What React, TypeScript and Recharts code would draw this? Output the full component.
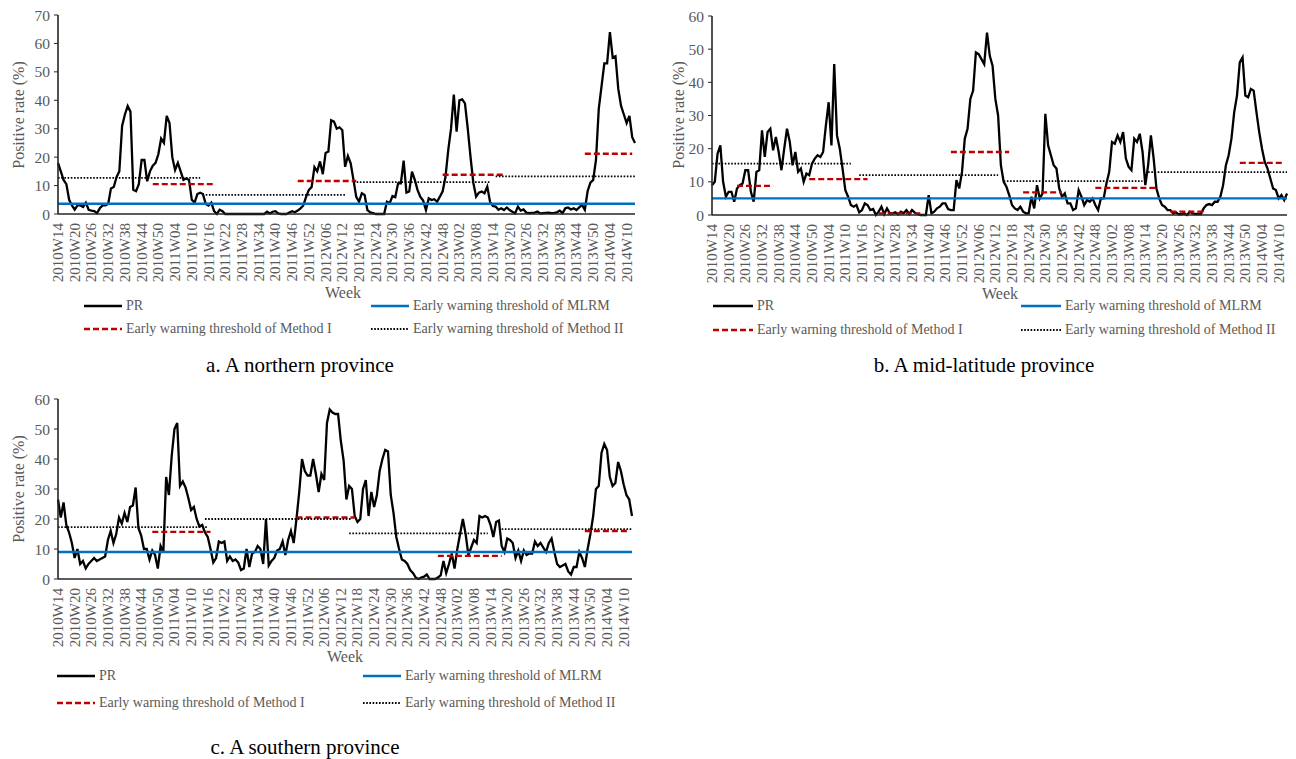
import React from 'react';
import { LineChart, Line, XAxis, YAxis } from 'recharts';

// weekly categories, 2010W14 .. 2014W13
const seasons: [number, number, number][] = [
  [2010, 14, 52],
  [2011, 1, 52],
  [2012, 1, 52],
  [2013, 1, 52],
  [2014, 1, 13],
];
const weeks: string[] = [];
seasons.forEach(([yr, from, to]) => {
  for (let w = from; w <= to; w++) weeks.push(`${yr}W${String(w).padStart(2, '0')}`);
});

// positive rate (%), one value per week
const prNorth = [
  18, 15, 12, 10.5, 5, 3, 1.5, 3, 3, 2.5,
  4, 1.5, 1.2, 1, 0.3, 2, 3, 3, 3.5, 9,
  9.5, 13, 15, 31, 35, 38, 36, 8.5, 8, 10.5,
  19, 19, 11.5, 15, 17, 18, 21, 26.5, 25, 34.5,
  32, 20, 15.5, 18, 15, 12, 12.5, 12, 5, 4,
  7, 7.5, 7, 3.5, 3, 4, 1, 0, 1.5, 1,
  0, 0, 0, 0, 0, 0, 0, 0, 0, 0,
  0, 0, 0, 0, 0, 0.8, 0.2, 0.8, 1, 0.2,
  0, 0, 0, 0.5, 1, 0.6, 1.2, 2, 3, 6,
  8.5, 9.5, 16.5, 15, 18.5, 14, 21.5, 22, 33, 32.5,
  30, 30.5, 29.5, 16.6, 20.4, 17.8, 12, 6, 4.3, 7.3,
  6.7, 1.4, 0.6, 0.3, 0, 0, 0, 0, 4.3, 3.8,
  6.3, 5.9, 10.8, 10.8, 18.8, 7.5, 7.9, 14.9, 12, 8.4,
  6, 4.7, 1.4, 5.5, 4.9, 5.2, 4.3, 6.1, 8, 13,
  22.5, 30, 42, 29, 40, 40.3, 38.9, 30, 20, 11,
  6.1, 7.5, 7.9, 7.3, 9.6, 4.3, 2.8, 2.6, 1.5, 2,
  1.4, 2.3, 1.4, 0.8, 0.2, 2.6, 1.2, 1.6, 0.5, 0.3,
  0.4, 0.5, 0.9, 0.2, 0.3, 0.4, 0.5, 0.3, 0.4, 0.6,
  1.2, 0.3, 2, 2.3, 1.6, 2, 1.4, 2.3, 3.2, 1.5,
  8, 11, 12, 19, 37, 45, 53, 53, 64, 55,
  55.5, 44, 38, 35, 32, 34.5, 27, 25,
];

const prMid = [
  9, 10, 18.5, 21, 10, 5.5, 7, 7, 4, 8,
  9, 9.5, 13.5, 13.5, 7, 4, 13, 13.5, 25.5, 17.5,
  25, 26, 19.5, 23.5, 19, 13.5, 20, 26, 22, 15,
  19, 13, 14, 10, 12.5, 12, 15.5, 17, 18, 17.5,
  19, 27, 34, 21, 45.5, 24, 20, 14, 7.5, 5.5,
  3, 2.5, 3, 0.8, 1.5, 3.5, 3, 1.5, 1.8, 0,
  1, 2.5, 0.3, 2, 0.5, 0.5, 0.8, 0.2, 1, 0.5,
  1.5, 0.3, 1.5, 0.7, 0.3, 0, 0, 0, 6, 0.5,
  1, 2, 2.5, 3.5, 3.5, 1.8, 1.5, 1.5, 10.5, 8,
  13, 23, 26, 35, 37.5, 49, 48.5, 47, 45.5, 55,
  48, 45, 35, 30, 15, 10, 8.5, 6, 3, 2,
  1.5, 2.5, 1, 0.5, 0.5, 5.5, 2, 9, 5, 6.5,
  30.5, 21, 18, 15, 14, 8, 5.5, 6.5, 3.5, 3.5,
  1.5, 2, 7.5, 5.5, 3, 4.5, 4, 5, 3, 1.5,
  5, 5, 9.5, 13, 22, 21.5, 24, 22, 25, 17,
  14.5, 13.5, 23, 22, 24.5, 19, 9, 15, 24, 17,
  8, 5, 3, 2.5, 1.5, 1.5, 0.5, 0.8, 0.2, 0.3,
  0.5, 0, 1, 0.5, 0.3, 0.3, 0.3, 2, 3, 3.3,
  3, 4, 4, 5.5, 9, 15, 18, 23, 31, 36,
  46, 47.5, 36, 35.5, 38, 37.5, 31, 25, 20, 16,
  14, 11, 8, 7.5, 5, 6, 4.5, 6.5,
];

const prSouth = [
  26.5, 20.5, 25.5, 18, 15.5, 12, 7, 10, 5, 6,
  3.5, 5, 6, 7, 6, 6.5, 7, 7.5, 13, 16,
  12, 15, 20.5, 18.5, 22, 19, 24, 24.5, 30.5, 17,
  14.5, 10, 10, 6.5, 9.5, 8, 3.5, 11, 9, 34,
  28, 41, 50, 52, 31, 32.5, 30.5, 27, 23, 24,
  20, 17.5, 18, 15.5, 14, 10, 5.5, 7, 12.5, 12,
  12.5, 6, 7.5, 6, 6.5, 5.5, 3, 3.5, 10, 4,
  8.5, 9, 11, 10, 5, 20, 4.5, 6, 7, 9.5,
  10, 12.5, 8, 13, 16, 12, 20, 29, 40, 36,
  34.5, 34.5, 40, 35, 29, 35, 33, 52, 56.5, 55.5,
  55, 55, 46, 39.5, 26.5, 31, 30, 21, 19, 20,
  30, 33, 21, 29, 24, 28, 36, 40, 43, 42.5,
  28, 22, 14, 10, 6.5, 6, 5, 3, 2, 0.5,
  0, 0.5, 0.8, 1.5, 0, 0, 0, 0.5, 1.2, 6,
  2, 5, 8.5, 3.5, 10, 15, 20, 15, 8, 10.5,
  13, 12, 21, 20.5, 21, 20.5, 18, 14, 19, 19.5,
  11, 9, 13.5, 13, 12, 7, 9.5, 6, 9.5, 8,
  8.5, 8.5, 12.5, 11, 12, 10.5, 9, 12, 13.5, 9,
  5, 4, 4.5, 5, 2.5, 1.5, 4, 4, 9, 7,
  4, 10, 15, 21, 30, 31, 42, 45, 43, 34,
  31, 32, 39, 36, 31.5, 28, 26.5, 21,
];

// MLRM thresholds (constant)
const mlrmNorth = 3.6;
const mlrmMid = 5.0;
const mlrmSouth = 9.0;

// [first week index, last week index, threshold]
type Seg = [number, number, number];
const method1North: Seg[] = [[34, 56, 10.5], [86, 107, 11.6], [138, 160, 13.8], [189, 206, 21.2]];
const method2North: Seg[] = [[0, 51, 12.7], [53, 103, 6.7], [106, 155, 11.2], [157, 207, 13.2]];
const method1Mid: Seg[] = [
  [9, 22, 8.8], [35, 56, 10.8], [60, 75, 0.5], [86, 107, 19],
  [112, 126, 6.8], [138, 160, 8.2], [165, 177, 1], [190, 206, 15.7],
];
const method2Mid: Seg[] = [[0, 50, 15.5], [53, 103, 12], [105, 155, 10.2], [157, 207, 12.9]];
const method1South: Seg[] = [[34, 55, 15.7], [86, 107, 20.5], [137, 160, 7.7], [190, 206, 16]];
const method2South: Seg[] = [[0, 54, 17.3], [53, 106, 20], [105, 155, 15.2], [160, 207, 16.6]];

const SERIF = "'Times New Roman', 'Liberation Serif', 'DejaVu Serif', serif";
const GREY = '#595959';
const RED = '#C00000';
const BLUE = '#0070C0';

const buildRows = (pr: number[], mlrm: number, m1: Seg[], m2: Seg[]) =>
  weeks.map((week, i) => {
    const row: Record<string, any> = { week, pr: pr[i], mlrm };
    m1.forEach((s, k) => (row['m1_' + k] = i >= s[0] && i <= s[1] ? s[2] : null));
    m2.forEach((s, k) => (row['m2_' + k] = i >= s[0] && i <= s[1] ? s[2] : null));
    return row;
  });

const WeekTick = (props: any) => {
  const { x, y, payload } = props;
  return (
    <text
      x={x}
      y={y}
      transform={`rotate(-90, ${x}, ${y})`}
      textAnchor="end"
      dominantBaseline="central"
      style={{ fontFamily: SERIF, fontSize: 15 }}
      fill={GREY}
    >
      {payload.value}
    </text>
  );
};

interface PanelProps {
  left: number;
  top: number;
  width: number;
  height: number;
  plotTop: number;
  plotRight: number;
  xAxisHeight: number;
  yMax: number;
  pr: number[];
  mlrm: number;
  m1: Seg[];
  m2: Seg[];
}

const Panel = ({ left, top, width, height, plotTop, plotRight, xAxisHeight, yMax, pr, mlrm, m1, m2 }: PanelProps) => {
  const data = buildRows(pr, mlrm, m1, m2);
  const ticks: number[] = [];
  for (let t = 0; t <= yMax; t += 10) ticks.push(t);
  return (
    <div style={{ position: 'absolute', left, top, fontFamily: SERIF }}>
      <LineChart width={width} height={height} data={data} margin={{ top: plotTop, right: plotRight, left: 0, bottom: 0 }}>
        <XAxis
          dataKey="week"
          interval={5}
          height={xAxisHeight}
          tickLine={false}
          tick={<WeekTick />}
          tickMargin={3}
          axisLine={{ stroke: '#262626', strokeWidth: 1.6 }}
        />
        <YAxis
          type="number"
          domain={[0, yMax]}
          ticks={ticks}
          width={58}
          tickSize={4}
          tickMargin={4}
          axisLine={{ stroke: '#262626', strokeWidth: 1.6 }}
          tickLine={{ stroke: '#262626' }}
          tick={{ fontSize: 15.5, fill: GREY, style: { fontFamily: SERIF } }}
        />
        <Line dataKey="pr" stroke="#000" strokeWidth={2.3} dot={false} isAnimationActive={false} />
        <Line dataKey="mlrm" stroke={BLUE} strokeWidth={2.3} dot={false} isAnimationActive={false} />
        {m1.map((_, k) => (
          <Line
            key={'m1_' + k}
            dataKey={'m1_' + k}
            stroke={RED}
            strokeWidth={2.3}
            strokeDasharray="6 3"
            dot={false}
            isAnimationActive={false}
          />
        ))}
        {m2.map((_, k) => (
          <Line
            key={'m2_' + k}
            dataKey={'m2_' + k}
            stroke="#000"
            strokeWidth={1.8}
            strokeDasharray="1.6 1.6"
            dot={false}
            isAnimationActive={false}
          />
        ))}
      </LineChart>
    </div>
  );
};

const Swatch = ({ kind, len }: { kind: string; len: number }) => {
  const common = { x1: 0, y1: 5, x2: len, y2: 5 };
  let line;
  if (kind === 'pr') line = <line {...common} stroke="#000" strokeWidth={2.3} />;
  else if (kind === 'mlrm') line = <line {...common} stroke={BLUE} strokeWidth={2.3} />;
  else if (kind === 'm1') line = <line {...common} stroke={RED} strokeWidth={2.3} strokeDasharray="6 3" />;
  else line = <line {...common} stroke="#000" strokeWidth={1.8} strokeDasharray="1.6 1.6" />;
  return (
    <svg width={len} height={10} style={{ display: 'block' }}>
      {line}
    </svg>
  );
};

const LegendItem = ({ x, y, len, kind, text }: { x: number; y: number; len: number; kind: string; text: string }) => (
  <div
    style={{
      position: 'absolute',
      left: x,
      top: y - 10,
      height: 20,
      display: 'flex',
      alignItems: 'center',
      whiteSpace: 'nowrap',
      fontFamily: SERIF,
      fontSize: 14,
      color: GREY,
    }}
  >
    <Swatch kind={kind} len={len} />
    <span style={{ marginLeft: 4 }}>{text}</span>
  </div>
);

const Legend = ({ x1, x2, y1, y2, len }: { x1: number; x2: number; y1: number; y2: number; len: number }) => (
  <>
    <LegendItem x={x1} y={y1} len={len} kind="pr" text="PR" />
    <LegendItem x={x2} y={y1} len={len} kind="mlrm" text="Early warning threshold of MLRM" />
    <LegendItem x={x1} y={y2} len={len} kind="m1" text="Early warning threshold of Method I" />
    <LegendItem x={x2} y={y2} len={len} kind="m2" text="Early warning threshold of Method II" />
  </>
);

const Centered = ({ x, y, size, color, children }: { x: number; y: number; size: number; color: string; children: React.ReactNode }) => (
  <div
    style={{
      position: 'absolute',
      left: x,
      top: y,
      transform: 'translate(-50%, -50%)',
      whiteSpace: 'nowrap',
      fontFamily: SERIF,
      fontSize: size,
      color,
      lineHeight: 1,
    }}
  >
    {children}
  </div>
);

const YTitle = ({ x, y }: { x: number; y: number }) => (
  <div
    style={{
      position: 'absolute',
      left: x,
      top: y,
      transform: 'translate(-50%, -50%) rotate(-90deg)',
      whiteSpace: 'nowrap',
      fontFamily: SERIF,
      fontSize: 16,
      color: GREY,
      lineHeight: 1,
    }}
  >
    Positive rate (%)
  </div>
);

export default function App() {
  return (
    <div style={{ position: 'absolute', left: 0, top: 0, width: 1296, height: 759, background: '#fff', overflow: 'hidden', fontFamily: SERIF }}>
      {/* a. northern */}
      <Panel left={0} top={0} width={650} height={300} plotTop={15} plotRight={15} xAxisHeight={86} yMax={70}
        pr={prNorth} mlrm={mlrmNorth} m1={method1North} m2={method2North} />
      <YTitle x={19} y={115} />
      <Centered x={343} y={293} size={16} color={GREY}>Week</Centered>
      <Legend x1={84} x2={371} y1={306} y2={329} len={38} />
      <Centered x={300} y={365} size={21} color="#000">a. A northern province</Centered>

      {/* b. mid-latitude */}
      <Panel left={654} top={0} width={642} height={300} plotTop={16} plotRight={9} xAxisHeight={85} yMax={60}
        pr={prMid} mlrm={mlrmMid} m1={method1Mid} m2={method2Mid} />
      <YTitle x={679} y={115} />
      <Centered x={1000} y={294} size={16} color={GREY}>Week</Centered>
      <Legend x1={713} x2={1021} y1={306} y2={330} len={40} />
      <Centered x={984} y={365} size={21} color="#000">b. A mid-latitude province</Centered>

      {/* c. southern */}
      <Panel left={0} top={380} width={650} height={300} plotTop={19} plotRight={18} xAxisHeight={101} yMax={60}
        pr={prSouth} mlrm={mlrmSouth} m1={method1South} m2={method2South} />
      <YTitle x={19} y={489} />
      <Centered x={345} y={657} size={16} color={GREY}>Week</Centered>
      <Legend x1={57} x2={363} y1={676} y2={703} len={38} />
      <Centered x={305} y={747} size={21} color="#000">c. A southern province</Centered>
    </div>
  );
}
